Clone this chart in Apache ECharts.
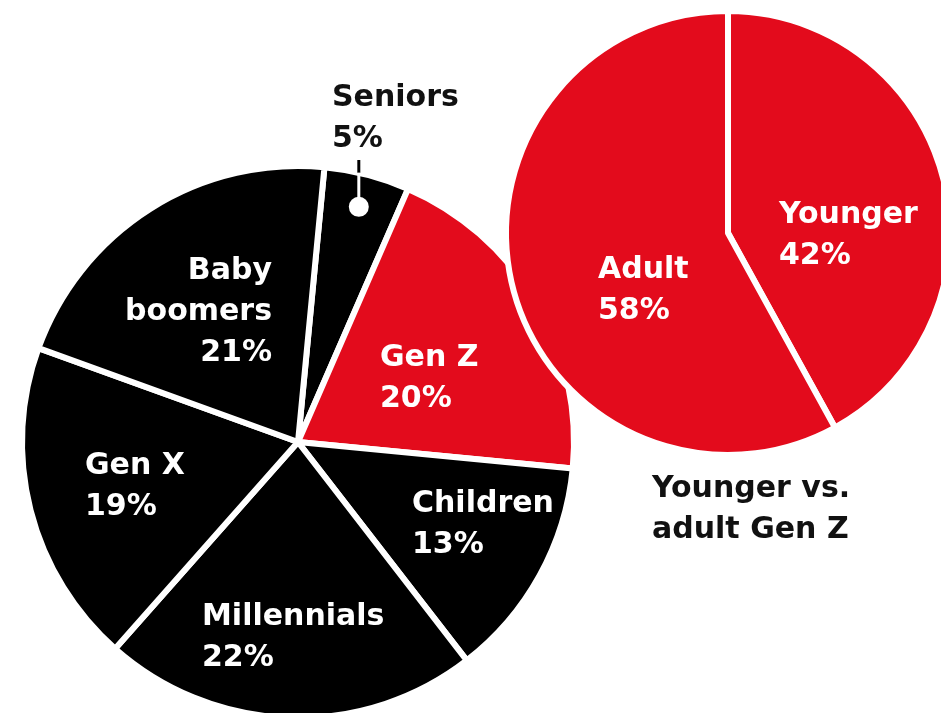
<!DOCTYPE html>
<html>
<head>
<meta charset="utf-8">
<script src="https://cdn.jsdelivr.net/npm/echarts@6/dist/echarts.min.js"></script>
<style>
  html, body { margin: 0; padding: 0; background: #ffffff; }
  #chart { width: 941px; height: 713px; }
</style>
</head>
<body>
<div id="chart"></div>
<script>
// Share of the population by generation (%)
const generations = ['Seniors', 'Gen Z', 'Children', 'Millennials', 'Gen X', 'Baby boomers'];
const generationLabels = ['Seniors', 'Gen Z', 'Children', 'Millennials', 'Gen X', 'Baby\nboomers'];
const generationShares = [5, 20, 13, 22, 19, 21];

// Gen Z split into younger and adult members (%)
const genZGroups = ['Younger', 'Adult'];
const genZShares = [42, 58];

const captionText = 'Younger vs.\nadult Gen Z';

const RED = '#e30b1c';
const BLACK = '#000000';
const INK = '#111111';
const generationColors = [BLACK, RED, BLACK, BLACK, BLACK, BLACK];
const FONT = '"DejaVu Sans", Verdana, sans-serif';

// Label anchors: x, vertical middle, text alignment
const mainLabelAnchors = [
  [332, 119, 'left'],
  [380, 379, 'left'],
  [412, 525, 'left'],
  [202, 638, 'left'],
  [85, 487, 'left'],
  [272, 312, 'right']
];
const splitLabelAnchors = [
  [779, 236, 'left'],
  [598, 291, 'left']
];

const labelStyle = {
  show: true,
  position: 'inside',
  fontFamily: FONT,
  fontWeight: 700,
  fontSize: 30,
  lineHeight: 41,
  color: '#ffffff'
};

function anchorLayout(anchors) {
  return function (params) {
    const a = anchors[params.dataIndex];
    return { x: a[0], y: a[1], align: a[2], verticalAlign: 'middle' };
  };
}

const chart = echarts.init(document.getElementById('chart'), null, { renderer: 'canvas' });

const option = {
  backgroundColor: '#ffffff',
  animation: false,
  title: {
    text: captionText,
    left: 652,
    top: 469,
    padding: 0,
    textStyle: { fontFamily: FONT, fontWeight: 700, fontSize: 30, lineHeight: 41, color: INK }
  },
  series: [
    {
      type: 'pie',
      center: [298, 442],
      radius: 276,
      startAngle: 84.5,
      clockwise: true,
      avoidLabelOverlap: false,
      silent: true,
      emphasis: { disabled: true },
      itemStyle: { borderColor: '#ffffff', borderWidth: 6 },
      label: Object.assign({}, labelStyle, {
        formatter: p => generationLabels[p.dataIndex] + '\n' + p.value + '%'
      }),
      labelLine: { show: false },
      labelLayout: anchorLayout(mainLabelAnchors),
      data: generations.map((name, i) => ({
        name: name,
        value: generationShares[i],
        itemStyle: { color: generationColors[i] },
        label: { color: i === 0 ? INK : '#ffffff' }
      }))
    },
    {
      type: 'pie',
      center: [728, 233],
      radius: 222,
      startAngle: 90,
      clockwise: true,
      avoidLabelOverlap: false,
      silent: true,
      emphasis: { disabled: true },
      itemStyle: { color: RED, borderColor: '#ffffff', borderWidth: 6 },
      label: Object.assign({}, labelStyle, {
        formatter: p => p.name + '\n' + p.value + '%'
      }),
      labelLine: { show: false },
      labelLayout: anchorLayout(splitLabelAnchors),
      data: genZGroups.map((name, i) => ({ name: name, value: genZShares[i] }))
    }
  ]
};

chart.setOption(option);

// Leader from the Seniors slice up to its outside label: a dot on the slice's
// mid-angle, a white stem across the slice and a black stem above the rim.
(function drawSeniorsLeader() {
  const data = chart.getModel().getSeriesByIndex(0).getData();
  const lay = data.getItemLayout(0);
  const mid = (lay.startAngle + lay.endAngle) / 2;
  const dotR = lay.r * 0.88;
  const px = lay.cx + dotR * Math.cos(mid);
  const py = lay.cy + dotR * Math.sin(mid);
  const rimY = lay.cy - Math.sqrt(lay.r * lay.r - (px - lay.cx) * (px - lay.cx));
  const stemTop = mainLabelAnchors[0][1] + 41;
  chart.setOption({
    graphic: [
      { type: 'line', z: 100, silent: true,
        shape: { x1: px, y1: rimY, x2: px, y2: stemTop },
        style: { stroke: BLACK, lineWidth: 3 } },
      { type: 'line', z: 100, silent: true,
        shape: { x1: px, y1: py, x2: px, y2: rimY },
        style: { stroke: '#ffffff', lineWidth: 3 } },
      { type: 'circle', z: 101, silent: true,
        shape: { cx: px, cy: py, r: 10 },
        style: { fill: '#ffffff' } }
    ]
  });
})();
</script>
</body>
</html>
